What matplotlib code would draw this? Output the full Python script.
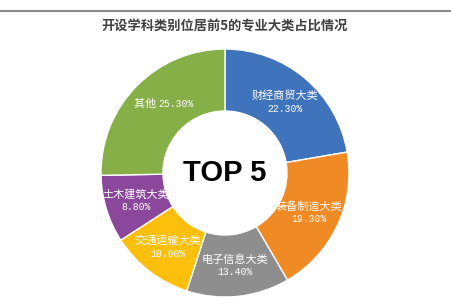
import numpy as np
import matplotlib.pyplot as plt

plt.rcParams['font.family'] = ['Noto Sans CJK SC', 'DejaVu Sans']

categories = ["财经商贸大类", "装备制造大类", "电子信息大类", "交通运输大类", "土木建筑大类", "其他"]
shares = [22.3, 19.3, 13.4, 10.9, 8.8, 25.3]
colors = ["#3F74BD", "#F08A24", "#8E8E8E", "#FCC00C", "#8A479C", "#87AF48"]

fig = plt.figure(figsize=(4.51, 3.08), dpi=100)
ax = fig.add_axes([0, 0, 1, 1])

cx, cy, R = 225, 135, 124
wedges, _ = ax.pie(shares, colors=colors, startangle=90, counterclock=False,
                   radius=R, center=(cx, cy), frame=True,
                   wedgeprops=dict(width=R * 0.5, edgecolor='white', linewidth=1))
ax.set_xlim(0, 451)
ax.set_ylim(0, 308)
ax.set_aspect('equal')
ax.axis('off')

for w, name, v in zip(wedges, categories, shares):
    mid = np.deg2rad((w.theta1 + w.theta2) / 2)
    x = cx + 0.75 * R * np.cos(mid)
    y = cy + 0.75 * R * np.sin(mid)
    pct = f"{v:.2f}%"
    if name == "其他":
        ax.text(x, y + 4, name + " ", color='white', fontsize=8, ha='right', va='center')
        ax.text(x, y + 4, pct, color='white', fontsize=7, ha='left', va='center',
                family='Liberation Mono')
    else:
        ax.text(x, y + 6, name, color='white', fontsize=8, ha='center', va='center')
        ax.text(x, y - 7, pct, color='white', fontsize=7, ha='center', va='center',
                family='Liberation Mono')

ax.text(cx, cy, "TOP 5", fontsize=21, fontweight='bold', color='black',
        ha='center', va='center', family='Liberation Sans')

ax.text(225, 308 - 26, "开设学科类别位居前5的专业大类占比情况", fontsize=9.5,
        color='#404040', ha='center', va='center', fontweight='bold')
ax.plot([0, 451], [297, 297], color='#8a8a8a', lw=1.5)

fig.savefig("out.png", dpi=100)
